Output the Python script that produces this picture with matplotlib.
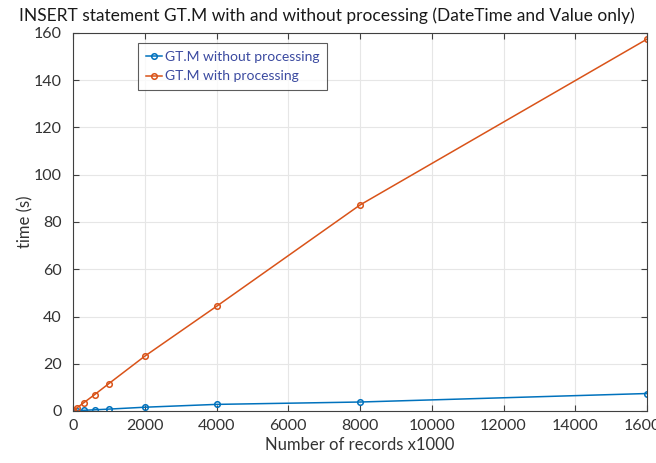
import matplotlib
matplotlib.use("Agg")
import matplotlib.pyplot as plt

records = [10, 100, 300, 600, 1000, 2000, 4000, 8000, 16000]
without_processing = [0.05, 0.1, 0.3, 0.5, 0.8, 1.6, 2.8, 3.8, 7.4]
with_processing = [0.3, 1.2, 3.5, 6.9, 11.6, 23.2, 44.3, 87.2, 157.4]
x_ticks = [0, 2000, 4000, 6000, 8000, 10000, 12000, 14000, 16000]
y_ticks = [0, 20, 40, 60, 80, 100, 120, 140, 160]

plt.rcParams['font.family'] = ['Lato', 'DejaVu Sans']

fig = plt.figure(figsize=(6.56, 4.63), dpi=100)
ax = fig.add_axes([73/656, 52/463, 574/656, 378/463])

ax.plot(records, without_processing, color='#0072BD', marker='o', markersize=4,
        markerfacecolor='none', markeredgewidth=1.1, linewidth=1.1,
        label='GT.M without processing')
ax.plot(records, with_processing, color='#D95319', marker='o', markersize=4,
        markerfacecolor='none', markeredgewidth=1.1, linewidth=1.1,
        label='GT.M with processing')

ax.set_xlim(0, 16000)
ax.set_ylim(0, 160)
ax.set_xticks(x_ticks)
ax.set_yticks(y_ticks)
ax.grid(True, color='#e6e6e6', linewidth=0.8)
ax.set_axisbelow(True)
axcol = '#404040'
for s in ax.spines.values():
    s.set_color(axcol)
    s.set_linewidth(0.8)
ax.tick_params(direction='in', length=4, width=0.8, colors=axcol, labelsize=11.5,
               top=True, right=True, labelcolor='#333333')
ax.tick_params(axis='y', pad=8)
ax.tick_params(axis='x', pad=6)

ax.set_xlabel('Number of records x1000', fontsize=12, color='#333333', labelpad=3)
ax.set_ylabel('time (s)', fontsize=12, color='#333333', labelpad=0)
fig.text(0.499, 0.985, 'INSERT statement GT.M with and without processing (DateTime and Value only)',
         ha='center', va='top', fontsize=12.5, color='#1a1a1a')

leg = ax.legend(loc='upper left', bbox_to_anchor=(0.113, 0.973), fontsize=10,
                frameon=True, fancybox=False, edgecolor='#333333',
                handlelength=1.2, handletextpad=0.2, borderpad=0.55, labelspacing=0.55,
                borderaxespad=0)
leg.get_frame().set_linewidth(0.8)
for t in leg.get_texts():
    t.set_color('#3b4aa0')

fig.savefig('out.png', dpi=100)
